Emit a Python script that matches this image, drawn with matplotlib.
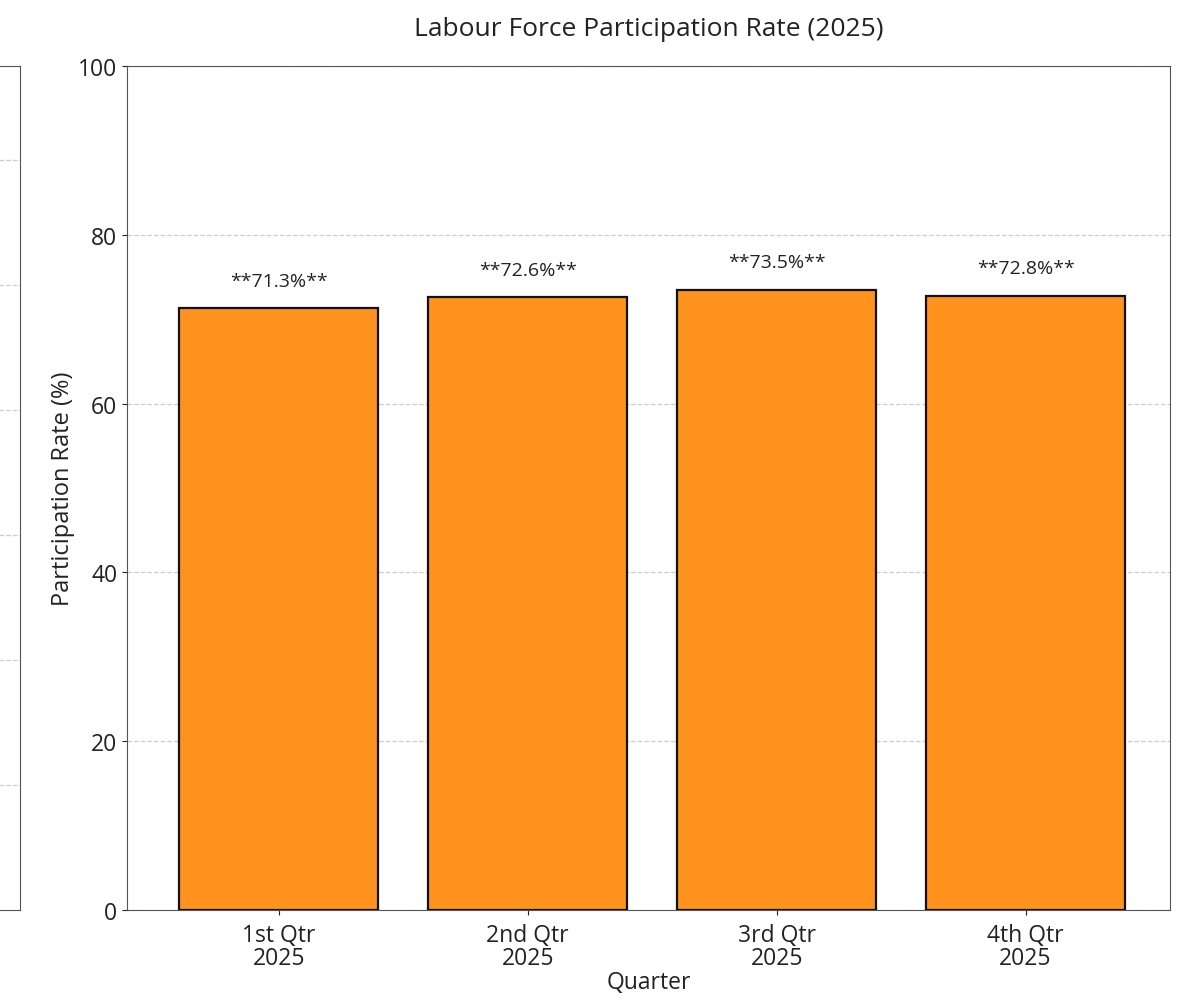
import matplotlib
matplotlib.use("Agg")
import matplotlib.pyplot as plt

plt.rcParams['font.family'] = ['Open Sans', 'DejaVu Sans']

quarters = ["1st Qtr\n2025", "2nd Qtr\n2025", "3rd Qtr\n2025", "4th Qtr\n2025"]
rates = [71.3, 72.6, 73.5, 72.8]
y_ticks = [0, 20, 40, 60, 80, 100]

bar_color = "#FF931E"
spine_color = "#555555"
text_color = "#222222"

fig = plt.figure(figsize=(11.8, 10.03), dpi=100)

# neighbouring panel, mostly outside the canvas
ax_prev = fig.add_axes([-0.6, 0.0917, 0.617, 0.8415])
ax_prev.set_ylim(0, 67.5)
ax_prev.set_yticks([10, 20, 30, 40, 50, 60])
ax_prev.set_xticks([])
ax_prev.tick_params(left=False, labelleft=False)
ax_prev.grid(axis='y', linestyle='--', color='#cccccc', linewidth=0.9)
for s in ax_prev.spines.values():
    s.set_color(spine_color)

ax = fig.add_axes([0.1076, 0.0917, 0.8839, 0.8415])
x = list(range(len(quarters)))
ax.bar(x, rates, width=0.8, color=bar_color, edgecolor='#111111', linewidth=1.6, zorder=3)
for xi, v in zip(x, rates):
    ax.text(xi, v + 2.2, f"**{v}%**", ha='center', va='bottom', fontsize=14, color=text_color)

ax.set_xlim(-0.61, 3.58)
ax.set_ylim(0, 100)
ax.set_yticks(y_ticks)
ax.set_xticks(x)
ax.set_xticklabels(quarters, linespacing=0.95)
ax.tick_params(axis='both', labelsize=16.5, colors=text_color)
ax.tick_params(axis='x', pad=6)
ax.grid(axis='y', linestyle='--', color='#cccccc', linewidth=0.9, zorder=0)
for s in ax.spines.values():
    s.set_color(spine_color)
ax.set_ylabel("Participation Rate (%)", fontsize=17, color=text_color, labelpad=2)
ax.set_xlabel("Quarter", fontsize=16.5, color=text_color, labelpad=0)
ax.set_title("Labour Force Participation Rate (2025)", fontsize=19, color=text_color, pad=22)

fig.savefig("out.png", dpi=100)
